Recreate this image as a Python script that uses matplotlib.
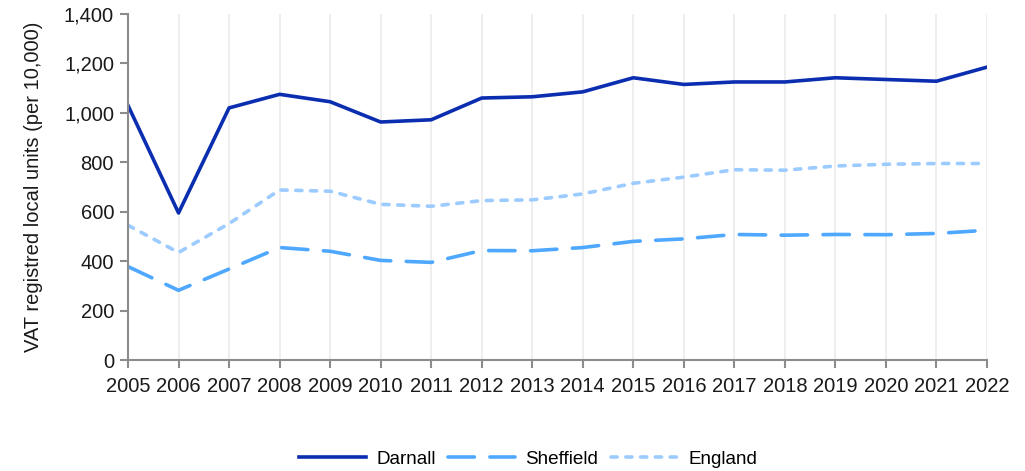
import numpy as np
import matplotlib.pyplot as plt
from matplotlib.ticker import FuncFormatter

plt.rcParams['font.family'] = ['Liberation Sans', 'DejaVu Sans']

years = list(range(2005, 2023))
darnall = [1030, 595, 1020, 1075, 1045, 963, 972, 1060, 1065, 1085,
           1142, 1115, 1125, 1125, 1142, 1135, 1128, 1185]
sheffield = [378, 282, 368, 455, 440, 403, 395, 443, 442, 455,
             480, 490, 508, 505, 508, 507, 512, 525]
england = [545, 435, 552, 688, 683, 630, 622, 645, 648, 672,
           715, 740, 770, 768, 785, 792, 795, 795]

fig = plt.figure(figsize=(10.25, 4.71), dpi=100)
ax = fig.add_axes([128/1025, 1 - 360/471, (987 - 128)/1025, (360 - 14)/471])

ax.plot(years, darnall, color='#0b2eb0', lw=2.6, label='Darnall')
ax.plot(years, sheffield, color='#4ea8ff', lw=2.6, dashes=(7.3, 4.3),
        dash_capstyle='round', label='Sheffield')
ax.plot(years, england, color='#9ccbff', lw=2.6, dashes=(1.7, 2.4),
        dash_capstyle='round', label='England')

ax.set_xlim(2005, 2022)
ax.set_ylim(0, 1400)
ax.set_xticks(years)
ax.set_yticks(range(0, 1401, 200))
ax.yaxis.set_major_formatter(FuncFormatter(lambda v, p: f'{int(v):,}'))

ax.grid(axis='x', color='#ebebeb', lw=1.2)
ax.set_axisbelow(True)
for s in ['top', 'right']:
    ax.spines[s].set_visible(False)
for s in ['left', 'bottom']:
    ax.spines[s].set_color('#8c8c8c')
    ax.spines[s].set_linewidth(1.5)
ax.tick_params(axis='both', colors='#8c8c8c', width=1.5, length=6, labelsize=14.5,
               labelcolor='#1a1a1a')
ax.tick_params(axis='x', pad=6)
ax.tick_params(axis='y', pad=4)
ax.set_ylabel('VAT registred local units (per 10,000)', fontsize=14.5, color='#1a1a1a')
ax.yaxis.set_label_coords(-85/859, 0.5)

fig.legend(loc='center', bbox_to_anchor=(528/1025, 1 - 459/471), ncol=3, frameon=False,
           fontsize=13.6, handlelength=3.55, columnspacing=0.65, handletextpad=0.55)

fig.savefig('out.png', dpi=100)
